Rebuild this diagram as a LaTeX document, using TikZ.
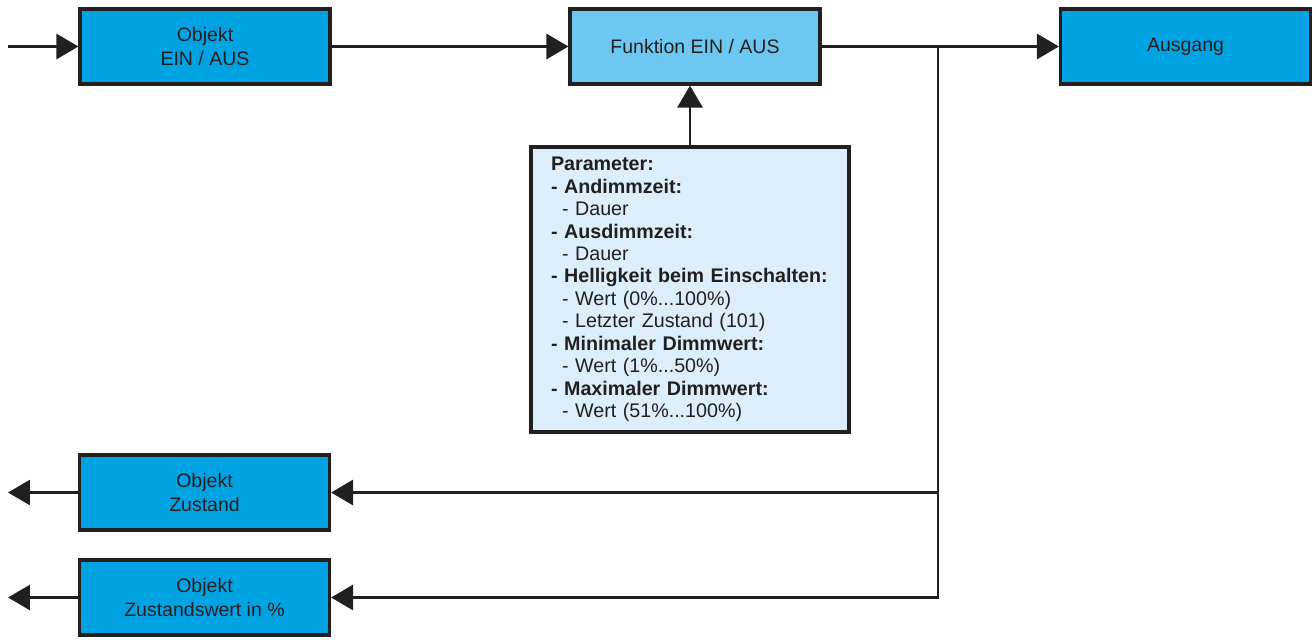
\documentclass[tikz,border=0pt]{standalone}
\usepackage{fontspec}
\setmainfont{Liberation Sans}
\usetikzlibrary{arrows.meta}
\definecolor{boxblue}{HTML}{00A3E2}
\definecolor{funcblue}{HTML}{6DC8F1}
\definecolor{parblue}{HTML}{DCEEF9}
\definecolor{linegray}{HTML}{231F20}
\tikzset{
  >={Triangle[length=0.44cm,width=0.5cm]},
}
\tikzstyle{block}=[draw=linegray,line width=1.8pt,minimum width=5cm,minimum height=1.5cm,align=center,text=linegray,font=\fontsize{11.1}{13.6}\selectfont]
\tikzstyle{object}=[block,fill=boxblue]
\tikzstyle{function}=[block,fill=funcblue]
\tikzstyle{params}=[draw=linegray,line width=1.8pt,fill=parblue,text=linegray,minimum width=6.36cm,minimum height=5.7cm,text width=5.56cm,inner xsep=0.4cm,align=left,font=\fontsize{11.2}{12.8}\selectfont]
\tikzstyle{signal}=[line width=1.6pt,draw=linegray,->]
\newcommand{\sub}{\hspace*{0.22cm}}

\begin{document}
\begin{tikzpicture}[x=0.02cm,y=-0.02cm]
    \useasboundingbox (0,0) rectangle (1315,639);
    % blocks
    \node[object] (objin) at (205,46.5) {Objekt\\EIN / AUS};
    \node[function] (func) at (695,46.5) {Funktion EIN / AUS};
    \node[object] (out) at (1185.5,46.5) {Ausgang};
    \node[object] (objstate) at (204.5,492.5) {Objekt\\Zustand};
    \node[object] (objval) at (204.5,597.5) {Objekt\\Zustandswert in \%};
    \node[params] (par) at (690,289.5) {\textbf{Parameter:}\\
      \textbf{- Andimmzeit:}\\ \sub- Dauer\\
      \textbf{- Ausdimmzeit:}\\ \sub- Dauer\\
      \textbf{- Helligkeit beim Einschalten:}\\ \sub- Wert (0\%...100\%)\\ \sub- Letzter Zustand (101)\\
      \textbf{- Minimaler Dimmwert:}\\ \sub- Wert (1\%...50\%)\\
      \textbf{- Maximaler Dimmwert:}\\ \sub- Wert (51\%...100\%)};
    % free ends
    \coordinate (in) at (8,46.5);
    \coordinate (branch) at (938,46.5);
    \coordinate (stateout) at (8,492.5);
    \coordinate (valout) at (8,597.5);
    % connectors
    \draw[signal] (in) -- (objin);
    \draw[signal] (objin) -- (func);
    \draw[signal] (func) -- (out);
    \draw[signal] (par.north) -- (par.north |- func.south);
    \draw[signal] (branch) -- (branch |- objval) -- (objval);
    \draw[signal] (branch |- objstate) -- (objstate);
    \draw[signal] (objstate) -- (stateout);
    \draw[signal] (objval) -- (valout);
  \end{tikzpicture}
\end{document}
